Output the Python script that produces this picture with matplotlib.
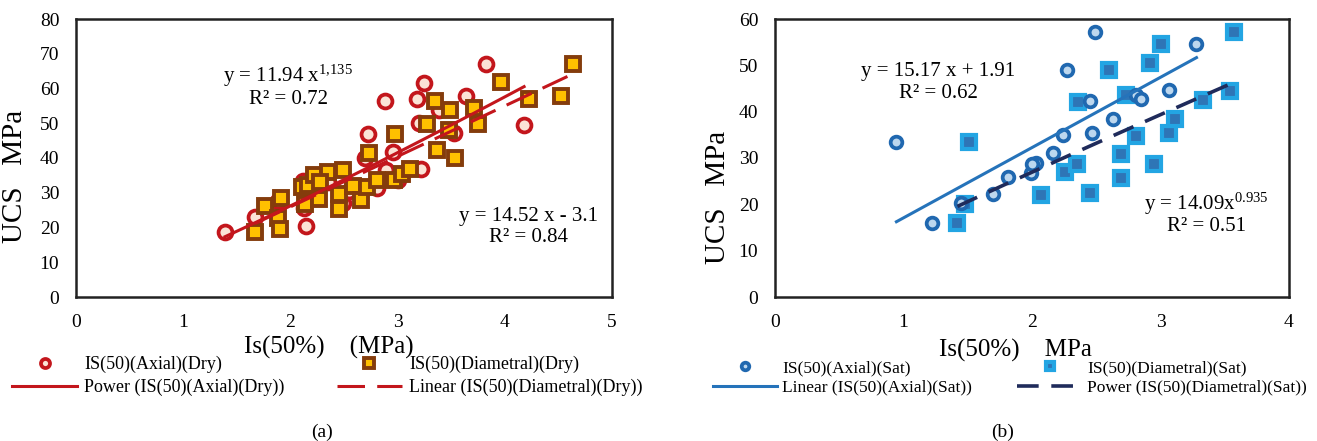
import numpy as np
import matplotlib
matplotlib.use("Agg")
import matplotlib.pyplot as plt

plt.rcParams['font.family'] = ['Liberation Serif', 'DejaVu Serif']
plt.rcParams['mathtext.fontset'] = 'custom'
plt.rcParams['mathtext.rm'] = 'Liberation Serif'
plt.rcParams['mathtext.it'] = 'Liberation Serif:italic'

# ---- data ----
# (a) dry samples
axial_dry_x = [1.39, 1.67, 2.15, 2.13, 2.12, 2.20, 2.35, 2.49, 2.55, 2.70, 2.72, 2.81, 2.88,
               2.89, 2.96, 3.00, 3.18, 3.20, 3.22, 3.25, 3.39, 3.53, 3.64, 3.82, 4.18, 1.88]
axial_dry_y = [18.6, 23.1, 20.4, 25.5, 33.5, 30.0, 33.0, 27.1, 30.5, 40.1, 46.8, 31.4, 56.3,
               36.5, 41.6, 33.7, 56.9, 50.0, 36.7, 61.5, 53.8, 47.3, 57.7, 67.0, 49.5, 27.5]

diam_dry_x = [1.67, 1.76, 1.88, 1.90, 1.91, 2.11, 2.14, 2.16, 2.22, 2.27, 2.35, 2.45, 2.45,
              2.49, 2.58, 2.66, 2.71, 2.73, 2.81, 2.97, 2.98, 3.04, 3.12, 3.27, 3.35, 3.37,
              3.48, 3.49, 3.54, 3.71, 3.75, 3.96, 4.23, 4.52, 4.64, 2.28]
diam_dry_y = [18.6, 26.3, 22.6, 19.7, 28.4, 31.7, 26.9, 32.2, 35.0, 28.1, 36.0, 29.5, 25.2,
              36.5, 31.9, 27.9, 31.7, 41.3, 33.8, 33.8, 46.8, 35.4, 36.7, 49.8, 56.3, 42.3,
              48.1, 53.8, 39.9, 54.3, 49.7, 62.0, 56.9, 57.7, 67.0, 33.0]

# (b) saturated samples
axial_sat_x = [0.945, 1.22, 1.45, 1.70, 1.81, 1.99, 2.03, 2.00, 2.16, 2.24, 2.27, 2.45, 2.47,
               2.49, 2.63, 2.81, 2.85, 3.07, 3.28]
axial_sat_y = [33.4, 15.9, 20.3, 22.3, 25.9, 26.8, 29.0, 28.7, 31.0, 34.9, 48.9, 42.2, 35.3,
               57.1, 38.4, 43.5, 42.7, 44.7, 54.7]

diam_sat_x = [1.51, 1.42, 1.48, 2.07, 2.26, 2.35, 2.36, 2.45, 2.60, 2.69, 2.69, 2.73, 2.81,
              2.92, 2.95, 3.00, 3.07, 3.11, 3.33, 3.54, 3.57]
diam_sat_y = [33.4, 15.9, 20.1, 22.1, 26.9, 28.7, 42.0, 22.4, 48.9, 30.9, 25.7, 43.6, 34.8,
              50.5, 28.7, 54.7, 35.3, 38.4, 42.5, 44.4, 57.1]

# trendline coefficients shown on the chart
power_dry = [11.94, 1.135]      # y = a x^b
linear_dry = [14.52, -3.1]      # y = m x + c
linear_sat = [15.17, 1.91]
power_sat = [14.09, 0.935]

W, H = 1317, 441
fig = plt.figure(figsize=(W / 100, H / 100), dpi=100)
ax1 = fig.add_axes([76 / W, 1 - 297 / H, 536 / W, 278 / H])
ax2 = fig.add_axes([775 / W, 1 - 297 / H, 514 / W, 278 / H])

red = '#C3161C'

# ---- (a) ----
h1, = ax1.plot(axial_dry_x, axial_dry_y, 'o', ms=10, mew=2.7, mfc='#FBE3D6', mec=red,
               ls='none', zorder=3, label='IS(50)(Axial)(Dry)')
h2, = ax1.plot(diam_dry_x, diam_dry_y, 's', ms=10.5, mew=2.8, mfc='#FFC000', mec='#843C0C',
               ls='none', zorder=4, label='IS(50)(Diametral)(Dry)')
xp = np.linspace(min(axial_dry_x), max(axial_dry_x), 100)
h3, = ax1.plot(xp, power_dry[0] * xp ** power_dry[1], color=red, lw=2.2, zorder=5,
               label='Power (IS(50)(Axial)(Dry))')
xl = np.array([min(diam_dry_x), max(diam_dry_x)])
h4, = ax1.plot(xl, linear_dry[0] * xl + linear_dry[1], color=red, lw=2.2, ls=(0, (9, 4)),
               zorder=5, label='Linear (IS(50)(Diametral)(Dry))')

ax1.set_xlim(0, 5)
ax1.set_ylim(0, 80)
ax1.set_xticks(range(0, 6))
ax1.set_yticks(range(0, 81, 10))

ax1.text(1.98, 63.5, 'y = 11.94 x$^{\\mathrm{1{,}135}}$', fontsize=15, ha='center', va='center')
ax1.text(1.98, 56.7, 'R² = 0.72', fontsize=15, ha='center', va='center')
ax1.text(4.22, 23.3, 'y = 14.52 x - 3.1', fontsize=15, ha='center', va='center')
ax1.text(4.22, 17.1, 'R² = 0.84', fontsize=15, ha='center', va='center')

ax1.set_xlabel('Is(50%)    (MPa)', fontsize=18, va='center')
ax1.xaxis.set_label_coords((329 - 76) / 536, (297 - 347) / 278)
ax1.set_ylabel('UCS   MPa', fontsize=21, va='center')
ax1.yaxis.set_label_coords((15 - 76) / 536, (297 - 176) / 278)

ax1.legend(handles=[h1, h3, h2, h4], ncol=2, frameon=False, fontsize=13,
           loc='upper left', bbox_to_anchor=(12 / W, 1 - 356 / H), bbox_transform=fig.transFigure,
           borderpad=0, borderaxespad=0, handlelength=3.6, handletextpad=0.4,
           columnspacing=2.9, labelspacing=0.3, markerscale=0.65)

# ---- (b) ----
g2, = ax2.plot(diam_sat_x, diam_sat_y, 's', ms=9.6, mew=3.0, mfc='#2E75B6', mec='#23A5E3',
               ls='none', zorder=3, label='IS(50)(Diametral)(Sat)')
g1, = ax2.plot(axial_sat_x, axial_sat_y, 'o', ms=8.4, mew=2.7, mfc='#BDD7EE', mec='#2068B0',
               ls='none', zorder=4, label='IS(50)(Axial)(Sat)')
xs = np.array([min(axial_sat_x), max(axial_sat_x)])
g3, = ax2.plot(xs, linear_sat[0] * xs + linear_sat[1], color='#2573BA', lw=2.2, zorder=5,
               label='Linear (IS(50)(Axial)(Sat))')
xq = np.linspace(min(diam_sat_x), max(diam_sat_x), 100)
g4, = ax2.plot(xq, power_sat[0] * xq ** power_sat[1], color='#1F2B5B', lw=2.6,
               ls=(0, (6, 3.5)), zorder=5, label='Power (IS(50)(Diametral)(Sat))')

ax2.set_xlim(0, 4)
ax2.set_ylim(0, 60)
ax2.set_xticks(range(0, 5))
ax2.set_yticks(range(0, 61, 10))

ax2.text(1.27, 48.6, 'y = 15.17 x + 1.91', fontsize=15, ha='center', va='center')
ax2.text(1.27, 44.0, 'R² = 0.62', fontsize=15, ha='center', va='center')
ax2.text(3.36, 20.0, 'y = 14.09x$^{\\mathrm{0.935}}$', fontsize=15, ha='center', va='center')
ax2.text(3.36, 15.2, 'R² = 0.51', fontsize=15, ha='center', va='center')

ax2.set_xlabel('Is(50%)    MPa', fontsize=18, va='center')
ax2.xaxis.set_label_coords((1015 - 775) / 514, (297 - 350) / 278)
ax2.set_ylabel('UCS   MPa', fontsize=21, va='center')
ax2.yaxis.set_label_coords((718 - 775) / 514, (297 - 197) / 278)

ax2.legend(handles=[g1, g3, g2, g4], ncol=2, frameon=False, fontsize=12.5,
           loc='upper left', bbox_to_anchor=(713 / W, 1 - 360 / H), bbox_transform=fig.transFigure,
           borderpad=0, borderaxespad=0, handlelength=3.7, handletextpad=0.3,
           columnspacing=2.6, labelspacing=0.2, markerscale=0.65)

for ax in (ax1, ax2):
    for sp in ax.spines.values():
        sp.set_color('#222222')
        sp.set_linewidth(1.8)
    ax.tick_params(length=0, labelsize=14, pad=12)

fig.text(322 / W, 1 - 432 / H, '(a)', fontsize=14, ha='center', va='center')
fig.text(1003 / W, 1 - 432 / H, '(b)', fontsize=14, ha='center', va='center')

fig.savefig('out.png', dpi=100)
